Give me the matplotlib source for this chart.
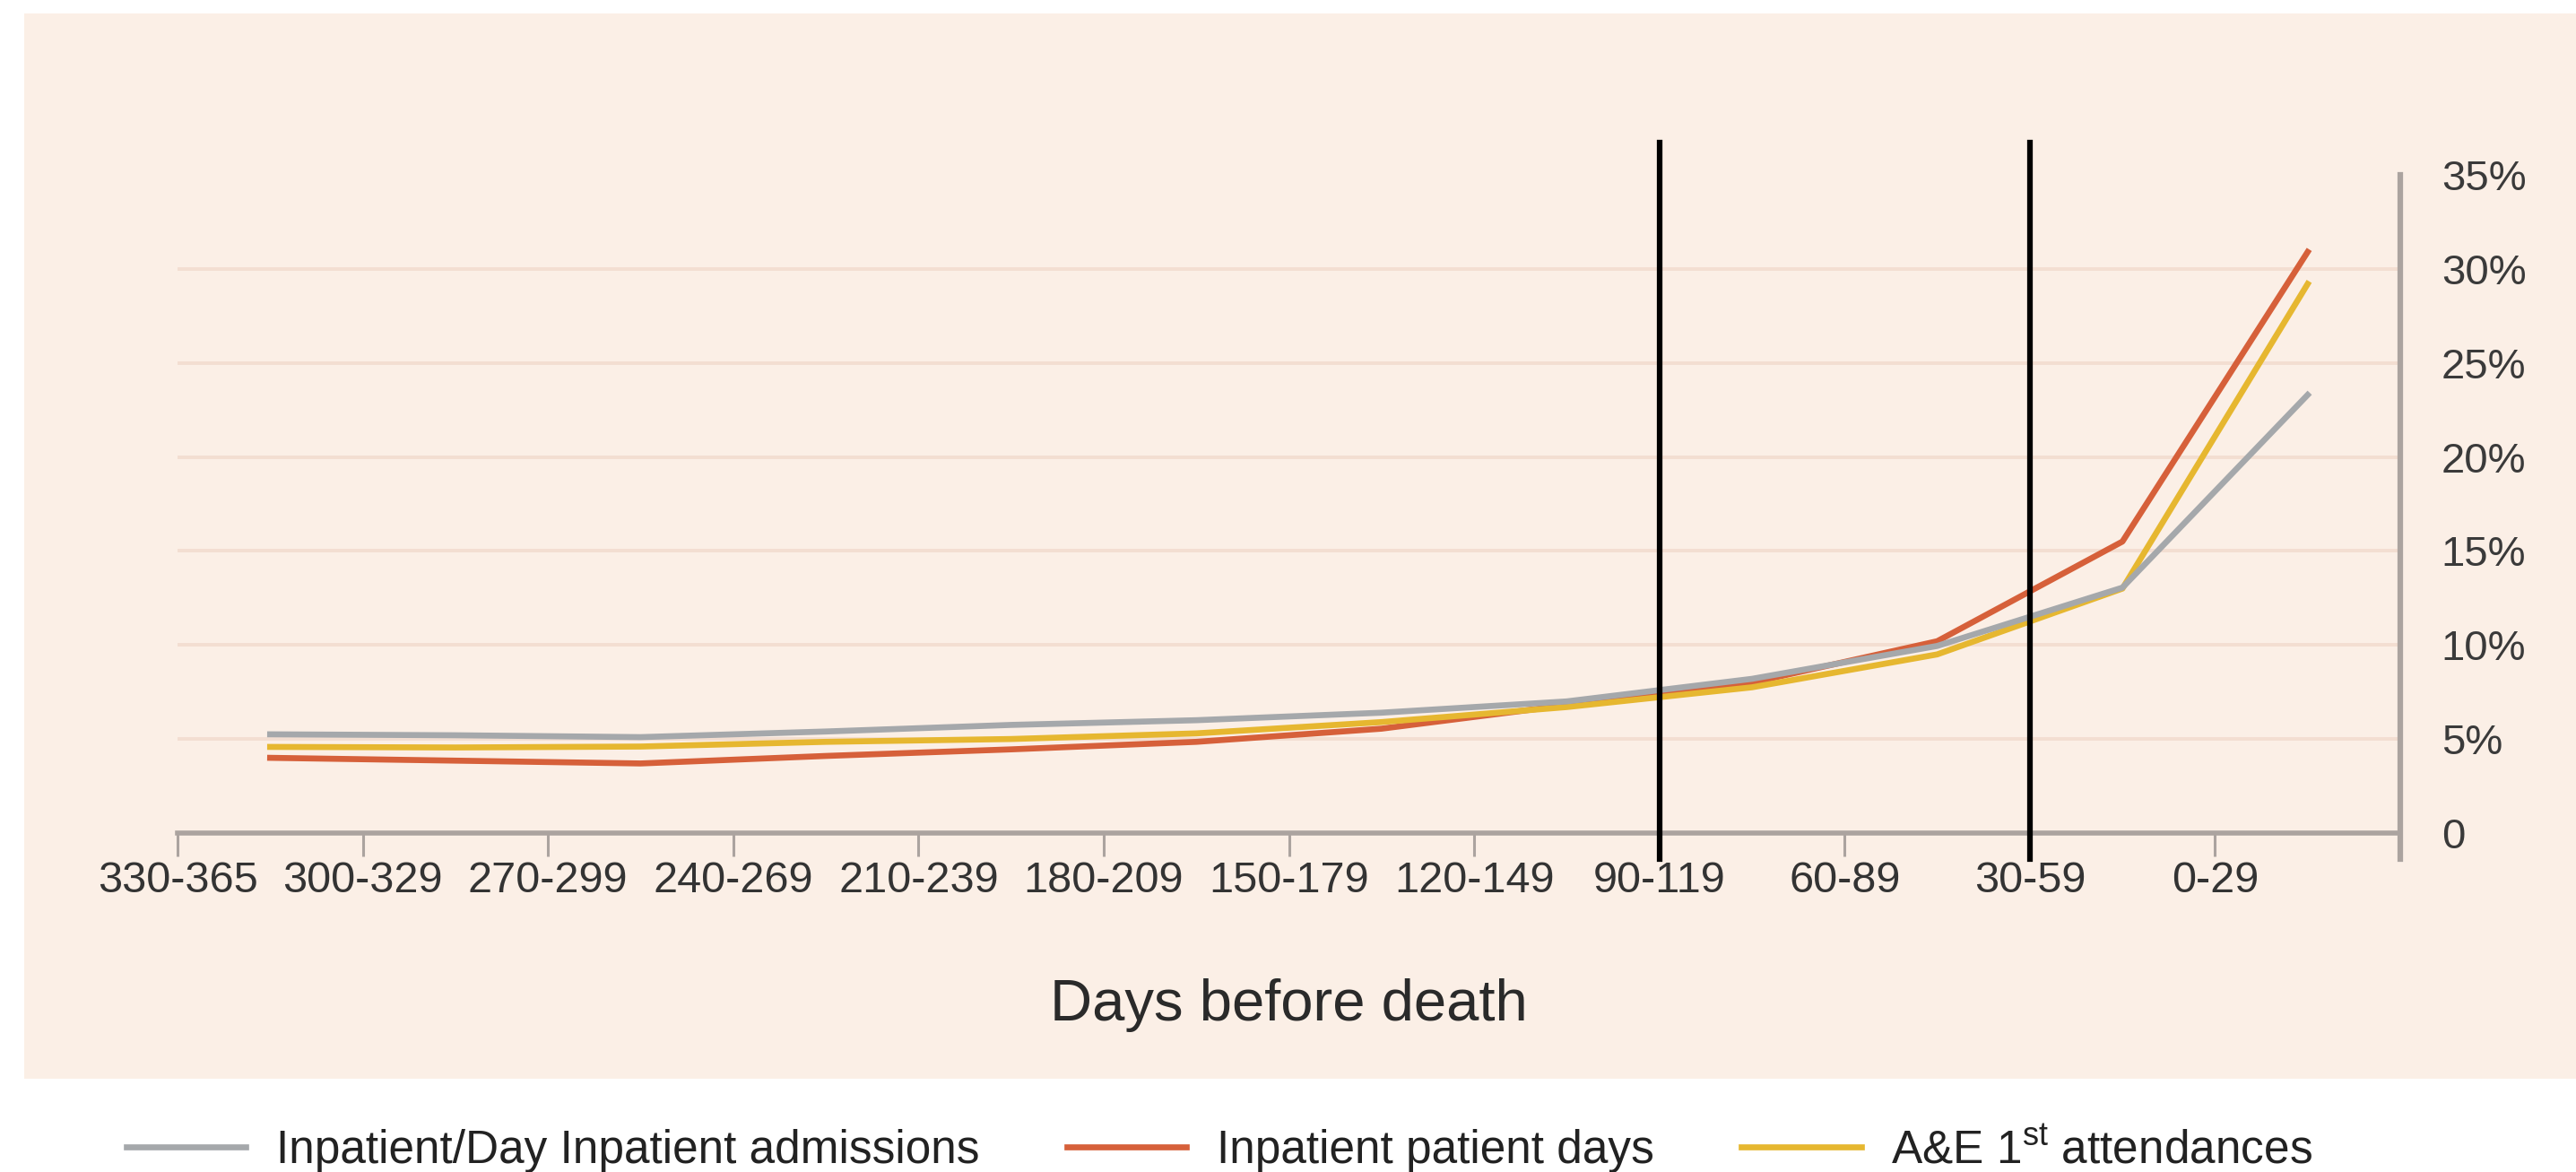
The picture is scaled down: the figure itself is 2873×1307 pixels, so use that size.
import numpy as np
import matplotlib
matplotlib.use('Agg')
import matplotlib.pyplot as plt
from matplotlib import font_manager
from matplotlib.patches import Rectangle

names = {f.name for f in font_manager.fontManager.ttflist}
if 'Liberation Sans Narrow' in names:
    tick_font, tick_size = 'Liberation Sans Narrow', 38
else:
    tick_font, tick_size = 'Liberation Sans', 35

plt.rcParams['font.family'] = ['Liberation Sans', 'DejaVu Sans']
plt.rcParams['mathtext.fontset'] = 'custom'
plt.rcParams['mathtext.rm'] = 'Liberation Sans'

# data (% of activity in each 30-day band before death)
periods = ['330-365', '300-329', '270-299', '240-269', '210-239', '180-209',
           '150-179', '120-149', '90-119', '60-89', '30-59', '0-29']
admissions = [5.25, 5.2, 5.1, 5.4, 5.75, 6.0, 6.4, 7.0, 8.2, 9.95, 13.05, 23.3]
patient_days = [4.0, 3.85, 3.7, 4.1, 4.45, 4.85, 5.55, 6.8, 8.0, 10.2, 15.5, 30.9]
ae_attend = [4.58, 4.55, 4.6, 4.85, 5.0, 5.3, 5.9, 6.7, 7.75, 9.5, 13.0, 29.2]
marker_periods = ['90-119', '30-59']
yticks = [0, 5, 10, 15, 20, 25, 30, 35]

bg = '#FBEFE6'
axis_grey = '#ABA39F'

fig = plt.figure(figsize=(28.73, 13.07), dpi=100)
fig.patch.set_facecolor('white')
W, H = 2873, 1307
fig.add_artist(Rectangle((27 / W, 104 / H), 1 - 27 / W, (1203 - 15) / H,
                         transform=fig.transFigure, facecolor=bg, edgecolor='none', zorder=0))

ax = fig.add_axes([198 / W, (H - 929) / H, (2677 - 198) / W, (929 - 195) / H])
ax.set_facecolor('none')

x = np.arange(len(periods)) + 0.5
ax.plot(x, admissions, color='#A5A8AB', lw=4.8, label='Inpatient/Day Inpatient admissions', zorder=3)
ax.plot(x, patient_days, color='#D6603A', lw=4.8, label='Inpatient patient days', zorder=2)
ax.plot(x, ae_attend, color='#E6B730', lw=4.8, label='A&E 1$^{\\rm st}$ attendances', zorder=2.5)

for p in marker_periods:
    ax.axvline(periods.index(p), ymin=-0.04, ymax=1.049, color='black', lw=4.5,
               clip_on=False, zorder=5)

ax.set_xlim(0, len(periods))
ax.set_ylim(0, 35)

ax.set_xticks(np.arange(len(periods) + 1))
ax.set_xticklabels(periods + [''], fontsize=tick_size, family=tick_font, color='#333333')
ax.tick_params(axis='x', direction='out', length=19, width=2.2, color=axis_grey, pad=3)

ax.yaxis.tick_right()
ax.set_yticks(yticks)
ax.set_yticklabels(['0' if v == 0 else f'{v}%' for v in yticks], fontsize=34, color='#3a3a3a')
ax.tick_params(axis='y', length=0, pad=33)
for lab in ax.get_yticklabels():
    lab.set_horizontalalignment('left')

ax.yaxis.grid(True, color='#F3DED1', lw=2.8, zorder=1)
ax.yaxis.get_gridlines()[-1].set_visible(False)
ax.yaxis.get_gridlines()[0].set_visible(False)

for s in ['top', 'left']:
    ax.spines[s].set_visible(False)
ax.spines['bottom'].set_color(axis_grey)
ax.spines['bottom'].set_linewidth(4)
ax.spines['right'].set_color(axis_grey)
ax.spines['right'].set_linewidth(4.5)
ax.spines['right'].set_bounds(-1.4, 35)

fig.text(1437 / W, (H - 1138) / H, 'Days before death', ha='center', va='baseline',
         fontsize=47, color='#2a2a2a')

fig.legend(loc='center', bbox_to_anchor=(1360 / W, 24 / H), ncol=3, frameon=False,
           fontsize=37, handlelength=2.6, handletextpad=0.65, columnspacing=1.9,
           labelcolor='#222222')

fig.savefig('out.png', dpi=100, facecolor='white')
